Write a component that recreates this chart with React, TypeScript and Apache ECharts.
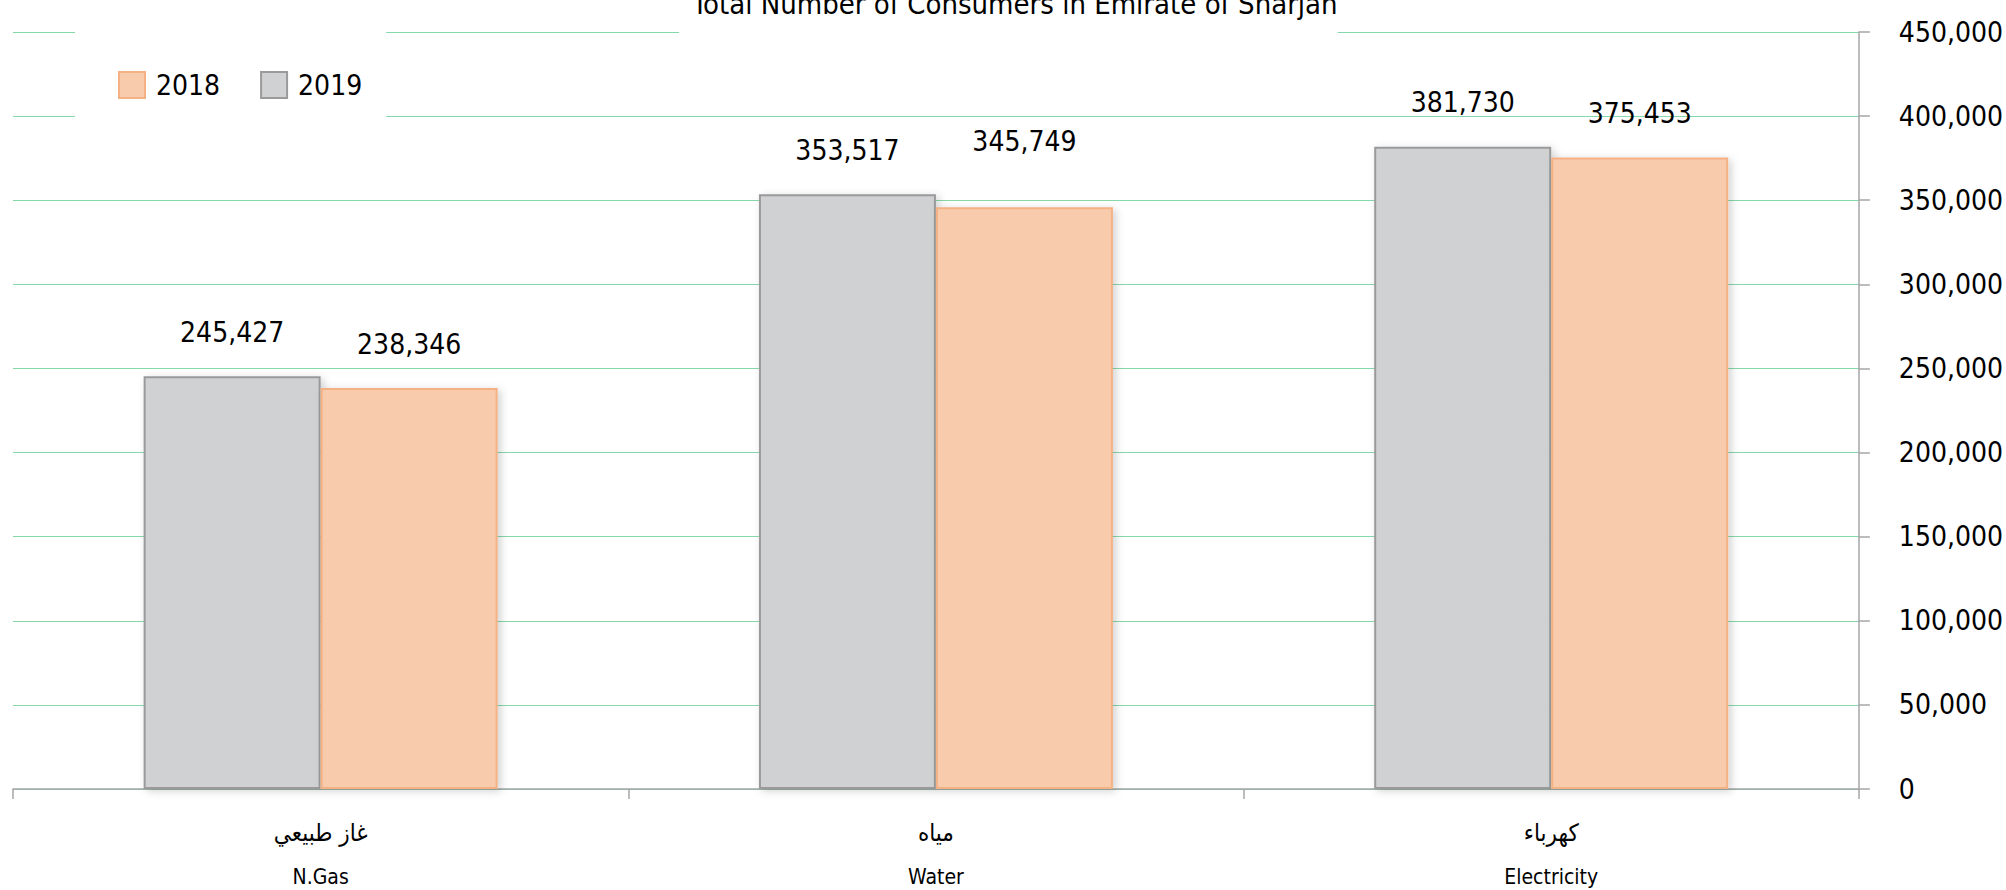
import React, { useEffect, useRef } from "react";
import * as echarts from "echarts";

const categoriesAr = ["غاز طبيعي", "مياه", "كهرباء"];
const categoriesEn = ["N.Gas", "Water", "Electricity"];
const values2019 = [245427, 353517, 381730];
const values2018 = [238346, 345749, 375453];
const legendNames = ["2018", "2019"];
const titleText = "Total Number of Consumers in Emirate of Sharjah";

const FONT = "'DejaVu Sans Condensed', 'DejaVu Sans', sans-serif";

export default function App() {
  const ref = useRef<HTMLDivElement>(null);
  useEffect(() => {
    if (!ref.current) return;
    const chart = echarts.init(ref.current, null, { renderer: "svg" });
    const fmt = (v: number) => Number(v).toLocaleString("en-US");
    const labelCfg = {
      show: true,
      position: "top",
      distance: 30,
      fontSize: 28,
      color: "#000",
      fontFamily: FONT,
      formatter: (p: any) => fmt(p.value),
    };
    const barShadow = {
      shadowBlur: 8,
      shadowColor: "rgba(0,0,0,0.18)",
      shadowOffsetX: 3,
      shadowOffsetY: 2,
    };
    chart.setOption({
      animation: false,
      backgroundColor: "#fff",
      textStyle: { fontFamily: FONT },
      title: {
        text: titleText,
        left: 679,
        top: -11,
        padding: [0, 0, 22, 13],
        backgroundColor: "#fff",
        textStyle: { fontSize: 29, fontWeight: "normal", color: "#000", fontFamily: FONT },
      },
      legend: {
        data: legendNames,
        left: 75,
        top: 20,
        icon: "rect",
        itemWidth: 26,
        itemHeight: 26,
        itemGap: 40,
        backgroundColor: "#fff",
        padding: [51, 24, 26, 43],
        textStyle: { fontSize: 28, color: "#000", fontFamily: FONT, padding: [0, 0, 0, 6] },
      },
      grid: { left: 13, right: 147, top: 32, bottom: 101 },
      xAxis: {
        type: "category",
        data: categoriesEn,
        axisLine: { lineStyle: { color: "#a6a6a6", width: 1.5 } },
        axisTick: { show: true, length: 10, lineStyle: { color: "#a6a6a6", width: 1.5 } },
        axisLabel: {
          margin: 22,
          formatter: (v: string, i: number) => `{ar|${categoriesAr[i]}}\n{en|${categoriesEn[i]}}`,
          rich: {
            ar: { fontSize: 24, lineHeight: 44, color: "#000", fontFamily: FONT },
            en: { fontSize: 21, lineHeight: 44, color: "#000", fontFamily: FONT },
          },
        },
      },
      yAxis: {
        type: "value",
        position: "right",
        min: 0,
        max: 450000,
        interval: 50000,
        axisLine: { show: true, lineStyle: { color: "#a6a6a6", width: 1.5 } },
        axisTick: { show: true, length: 11, lineStyle: { color: "#a6a6a6", width: 1.5 } },
        splitLine: { lineStyle: { color: "#86d9aa", width: 1.2 } },
        axisLabel: {
          margin: 40,
          fontSize: 28,
          color: "#000",
          fontFamily: FONT,
          padding: [0, 0, 12, 0],
          formatter: (v: number) => fmt(v),
        },
      },
      series: [
        {
          name: "2019",
          type: "bar",
          data: values2019,
          barWidth: 177,
          barGap: "0%",
          itemStyle: {
            color: "#d0d1d3",
            borderColor: "#9a9a9a",
            borderWidth: 2,
            ...barShadow,
          },
          label: labelCfg,
        },
        {
          name: "2018",
          type: "bar",
          data: values2018.map((v, i) =>
            i === 1 ? { value: v, label: { distance: 52 } } : v
          ),
          barWidth: 177,
          barGap: "0%",
          itemStyle: {
            color: "#f8cbad",
            borderColor: "#f4b183",
            borderWidth: 2,
            ...barShadow,
          },
          label: labelCfg,
        },
      ],
    });
    return () => chart.dispose();
  }, []);
  return (
    <div
      ref={ref}
      style={{ position: "fixed", left: 0, top: 0, width: 2006, height: 890 }}
    />
  );
}
